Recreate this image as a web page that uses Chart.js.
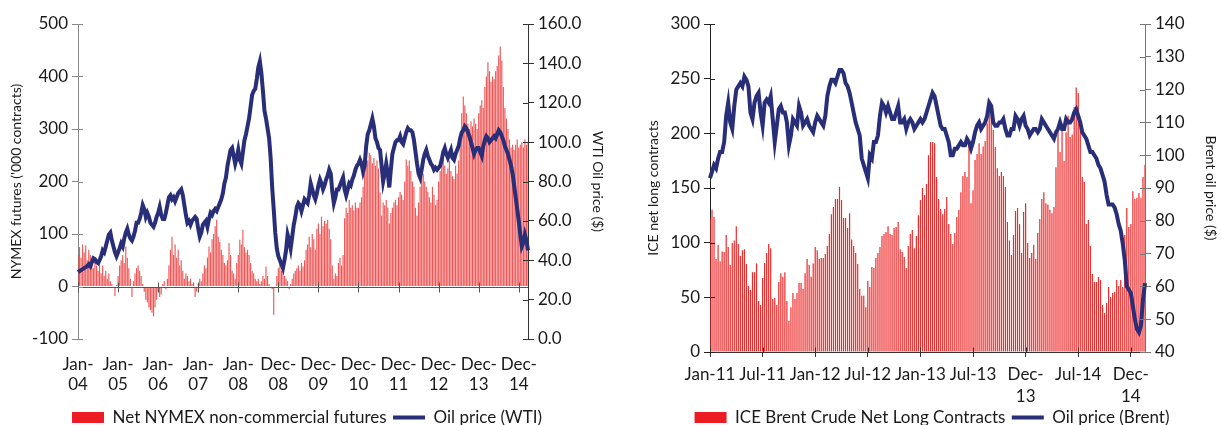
<!DOCTYPE html>
<html>
<head>
<meta charset="utf-8">
<script src="https://cdn.jsdelivr.net/npm/chart.js@4.4.1/dist/chart.umd.min.js"></script>
<style>
  body { margin: 0; background: #fff; }
  #wrap { position: relative; width: 1221px; height: 425px; overflow: hidden; }
  #c1 { position: absolute; left: 0; top: 0; }
  #c2 { position: absolute; left: 612px; top: 0; }
</style>
</head>
<body>
<div id="wrap">
  <canvas id="c1" width="612" height="436"></canvas>
  <canvas id="c2" width="609" height="436"></canvas>
</div>
<script>
// ---- left chart: NYMEX net non-commercial futures vs WTI (fortnightly, Jan-04 .. Feb-15)
var nymexTicks = [['Jan-','04'],['Jan-','05'],['Jan-','06'],['Jan-','07'],['Jan-','08'],['Dec-','08'],
                  ['Dec-','09'],['Dec-','10'],['Dec-','11'],['Dec-','12'],['Dec-','13'],['Dec-','14']];

var nymex = [
  60, 75, 55, 80, 65, 78, 50, 70, 60, 45, 35, 50, 40, 30, 45, 25, 40, 20, 30, 15, 25, 10, 5, 0, -18, 3,
  20, 40, 50, 60, 45, 76, 55, 35, 15, -20, 10, 25, 35, 40, 30, 20, 5, -10, -25, -30, -40, -45, -50, -57, -40, -25,
  -10, -20, -15, 5, 10, -5, 15, 40, 70, 95, 60, 80, 55, 70, 40, 50, 30, 15, 25, 20, 10, 15, 5, 8, -20, -10,
  5, 15, 10, 25, 40, 35, 55, 76, 65, 90, 100, 115, 127, 95, 85, 70, 60, 45, 40, 50, 83, 60, 30, 25, 15, 45,
  60, 89, 80, 108, 75, 65, 70, 60, 45, 30, 25, 15, 10, 15, 5, 10, 20, 15, 38, 20, 5, 0, -5, -54, 0, 20,
  35, 45, 30, 40, 20, 15, 10, -5, 5, 15, 25, 30, 35, 40, 30, 45, 38, 50, 70, 80, 95, 75, 100, 90, 70, 110,
  120, 100, 133, 115, 125, 120, 127, 110, 90, 40, 15, 25, 20, 45, 55, 40, 60, 130, 150, 140, 165, 150, 155, 145, 160, 150,
  150, 160, 170, 190, 230, 245, 240, 255, 250, 235, 245, 230, 240, 225, 179, 135, 160, 155, 165, 150, 120, 140, 150, 160, 165, 155,
  170, 180, 175, 165, 200, 242, 230, 240, 220, 200, 190, 150, 135, 160, 190, 210, 215, 200, 190, 180, 170, 160, 190, 175, 155, 165,
  200, 220, 240, 245, 230, 215, 225, 240, 220, 210, 205, 230, 215, 240, 280, 330, 362, 345, 330, 310, 300, 315, 305, 320, 310, 300,
  330, 345, 355, 340, 380, 400, 427, 410, 390, 400, 395, 410, 420, 440, 457, 430, 380, 340, 320, 300, 280, 265, 270, 260,
  270, 280, 265, 270, 275, 265, 280, 270, 275
];

var wti = [
  34, 34.5, 35, 35.5, 36, 36.5, 37, 38, 37, 39, 41, 40.5, 39,
  38.5, 40, 42, 45, 44, 47, 50, 53, 54, 50, 47, 44, 42,
  44, 46, 48.5, 47, 51, 54, 56, 53, 51, 50, 52, 55, 59,
  59, 61, 64, 68, 66, 62, 64, 62, 59, 58, 57, 59, 62,
  64, 67, 63, 61, 61, 64, 68, 72, 73, 71, 72, 70, 72,
  74, 75, 76, 73, 68, 63, 59, 60, 58, 60, 61, 62, 61,
  56, 52, 54, 58, 59, 60, 57, 61, 64, 63, 65, 66, 65,
  67, 69, 71, 74, 79, 82, 88, 92, 96, 97, 93, 89, 92,
  96, 91, 89, 95, 101, 104, 108, 112, 118, 124, 126, 127, 132,
  138, 141, 135, 126, 116, 112, 107, 102, 92, 77, 66, 54, 46,
  42, 40, 38, 36, 40, 45, 53, 50, 46, 52, 58, 62, 67,
  69, 68, 65, 68, 71, 70, 69, 73, 79, 76, 73, 71, 74,
  78, 81, 79, 76, 78, 81, 83, 86, 84, 75, 69, 72, 76,
  76, 78, 80, 82, 76, 73, 76, 79, 78, 81, 83, 86, 88,
  89, 91, 89, 85, 88, 98, 104, 106, 109, 112, 108, 102, 100,
  97, 96, 88, 80, 84, 89, 84, 77, 86, 94, 97, 100, 101,
  101, 103, 100, 99, 102, 105, 107, 106, 106, 105, 101, 95, 89,
  84, 82, 86, 91, 94, 96, 93, 91, 89, 88, 86, 87, 86,
  87, 88, 91, 95, 97, 94, 92, 94, 96, 92, 91, 94, 96,
  98, 102, 105, 106, 108, 107, 105, 103, 100, 97, 94, 96, 97,
  97, 95, 93, 98, 101, 103, 102, 100, 101, 102, 103, 102, 104,
  106, 105, 103, 101, 98, 96, 94, 91, 88, 84, 78, 72, 66,
  60, 53, 47, 49, 53, 50, 45
];

// ---- right chart: ICE Brent net long vs Brent (weekly, Jan-11 .. Feb-15)
var iceTicks = [['Jan-11'],['Jul-11'],['Jan-12'],['Jul-12'],['Jan-13'],['Jul-13'],['Dec-','13'],['Jul-14'],['Dec-','14']];

var iceNet = [
  122, 130, 123.5, 85, 98, 83, 92, 91.5, 107, 96, 79.6, 99.7, 102, 115, 98.8, 87.8, 93, 94, 80.5, 60.4,
  56.7, 73, 73, 81, 46.6, 43, 67.7, 81.4, 90.6, 98.8, 95, 48.5, 49.4, 43, 64, 72, 68.8, 73, 46.6, 28.4,
  41, 54, 48.5, 54, 63, 63, 57.6, 72, 85, 79.6, 68.8, 81, 96, 93, 85, 86, 86, 89.6, 97, 108,
  126, 132.6, 140, 140, 151, 139, 122.6, 122.6, 113.4,
  127, 103, 97, 90.6, 80.5, 57.6, 51.5, 51.5, 41, 65, 59.5, 77.7, 76.8, 86, 90.6, 96, 106, 108, 109.8, 115,
  108, 107, 113.4, 114.3, 119, 94, 91.5, 87, 76.8, 97, 108, 111.6, 95, 106, 125, 139, 150, 143.6, 153.7, 180,
  192, 192, 191, 160, 140, 130.8, 126, 130.8, 141.8, 117, 108, 98.8, 108.8, 123.5, 130, 146, 161, 164.6, 160, 191,
  136, 148, 175.6, 181, 191, 181, 188, 193, 209, 226, 220, 203,
  187.5, 168, 161, 164.6, 161, 151, 119, 102, 88.7, 107, 129, 131.7, 117, 90.6, 128, 136, 99.7, 86, 90.6, 98,
  85, 108.8, 121.6, 140, 146, 136, 135, 130, 127, 132.6, 169, 203, 183, 209, 174.7, 201, 216, 196.6, 199, 224,
  242, 237, 205, 160, 155.5, 117, 120.7, 97, 71.3, 64, 64, 68.6, 65.8, 43, 35.7, 44.8, 59.5, 50.3, 54, 55,
  65.8, 60.4, 65.8, 59.5, 107, 131.7, 114.3, 117, 147, 140, 141, 145.4, 141, 160, 171
];

var brent = [
  93, 95, 97, 96, 99, 101, 101, 104, 112, 116, 110, 108, 115,
  120, 121, 122, 121, 124, 123, 121, 113, 111, 116, 118, 119, 113,
  109, 116, 117, 116, 118, 111, 104, 109, 114, 115, 113, 113, 110,
  103, 106, 111, 110, 109, 115, 113, 109, 110, 111, 109, 108, 107,
  110, 112, 111, 110, 109, 112, 118, 121, 123, 123, 122, 124, 126,
  126, 125, 122, 121, 119, 116, 113, 110, 108, 106, 99, 97, 95,
  93, 100, 99, 104, 104, 106, 112, 116, 115, 113, 115, 113, 111,
  111, 113, 115, 110, 110, 111, 108, 110, 111, 110, 108, 109, 110,
  111, 110, 111, 113, 115, 117, 119, 118, 115, 112, 109, 108, 108,
  106, 104, 100, 100, 102, 102, 103, 104, 103, 103, 105, 104, 102,
  104, 107, 109, 110, 108, 109, 110, 112, 116, 115, 110, 109, 109,
  110, 110, 111, 108, 106, 106, 108, 108, 112, 111, 109, 111, 112,
  109, 108, 106, 107, 108, 108, 107, 108, 111, 110, 109, 108, 107,
  106, 105, 107, 108, 110, 108, 108, 111, 110, 110, 111, 113, 114,
  112, 110, 107, 106, 105, 103, 101, 101, 100, 99, 97, 96, 94,
  92, 88, 85, 85, 85, 84, 82, 79, 77, 73, 68, 60, 59,
  58, 54, 50, 47, 46, 48, 56, 61
];

var navy = '#282e78';
var red = '#ed1c24';
var textColor = '#1a1a1a';
var tickFont = { size: 17 };
var titleFont = { size: 14 };

Chart.defaults.font.family = 'Lato, "Open Sans", sans-serif';
Chart.defaults.color = textColor;
Chart.defaults.animation = false;

// Excel style "cross" tick marks: Chart.js draws the outer half, this draws the inner half
var crossTicks = {
  id: 'crossTicks',
  afterDraw: function (chart) {
    var ctx = chart.ctx;
    Object.keys(chart.scales).forEach(function (id) {
      var s = chart.scales[id];
      var len = s.options.crossLen;
      if (!len) return;
      ctx.save();
      ctx.strokeStyle = s.options.border.color;
      ctx.lineWidth = 1;
      ctx.beginPath();
      s.ticks.forEach(function (t, i) {
        var p = Math.round(s.getPixelForTick(i)) + 0.5;
        if (s.axis === 'x') {
          var y = Math.round(s.top) + 0.5;
          ctx.moveTo(p, y); ctx.lineTo(p, y - len);
        } else if (s.position === 'left') {
          ctx.moveTo(s.right, p); ctx.lineTo(s.right + len, p);
        } else {
          ctx.moveTo(s.left, p); ctx.lineTo(s.left - len, p);
        }
      });
      ctx.stroke();
      ctx.restore();
    });
  }
};

// chart 1: category axis crosses at 0, labels stay at the bottom
var zeroLine = {
  id: 'zeroLine',
  afterDatasetsDraw: function (chart) {
    var x = chart.scales.x, y = chart.scales.y, ctx = chart.ctx;
    var py = Math.round(y.getPixelForValue(0)) + 0.5;
    ctx.save();
    ctx.strokeStyle = '#555';
    ctx.lineWidth = 1;
    ctx.beginPath();
    ctx.moveTo(chart.chartArea.left, py);
    ctx.lineTo(chart.chartArea.right, py);
    x.ticks.forEach(function (t, i) {
      var px = Math.round(x.getPixelForTick(i)) + 0.5;
      ctx.moveTo(px, py - 5);
      ctx.lineTo(px, py + 5);
    });
    ctx.stroke();
    ctx.restore();
  }
};

function legendLabels(chart) {
  return chart.data.datasets.map(function (ds, i) {
    var isLine = ds.type === 'line';
    return {
      text: isLine ? ds.label : ds.label + ' ',
      datasetIndex: i,
      fillStyle: isLine ? navy : red,
      strokeStyle: isLine ? navy : red,
      lineWidth: isLine ? 4 : 0,
      pointStyle: isLine ? 'line' : 'rect',
      fontColor: textColor,
      hidden: false
    };
  });
}

var legendOpts = {
  position: 'bottom',
  labels: {
    usePointStyle: true,
    pointStyleWidth: 32,
    boxHeight: 11,
    padding: 2,
    font: tickFont,
    generateLabels: legendLabels
  }
};

function everyTick(step) {
  return function (scale) {
    scale.ticks = scale.ticks.filter(function (t) { return t.value % step === 0; });
  };
}

// ---------- chart 1
new Chart(document.getElementById('c1'), {
  type: 'bar',
  data: {
    labels: nymex.map(function (v, i) { return i; }),
    datasets: [
      {
        type: 'bar',
        label: 'Net NYMEX non-commercial futures',
        data: nymex,
        yAxisID: 'y',
        backgroundColor: 'rgba(235,45,45,0.8)',
        barPercentage: 0.75,
        categoryPercentage: 1,
        inflateAmount: 0,
        order: 2
      },
      {
        type: 'line',
        label: 'Oil price (WTI)',
        data: wti,
        yAxisID: 'y1',
        borderColor: navy,
        borderWidth: 4,
        pointRadius: 0,
        tension: 0,
        order: 1
      }
    ]
  },
  options: {
    responsive: false,
    layout: { padding: { left: 6, right: 4, top: 24, bottom: 0 } },
    plugins: { tooltip: { enabled: false }, legend: legendOpts },
    scales: {
      x: {
        type: 'category',
        position: 'bottom',
        offset: false,
        grid: { display: false, drawTicks: false, offset: false },
        border: { display: false },
        afterBuildTicks: everyTick(26),
        afterFit: function (s) { s.height = 68; },
        ticks: {
          autoSkip: false,
          maxRotation: 0,
          padding: 15,
          font: { size: 17, lineHeight: 1.18 },
          callback: function (v) { return nymexTicks[v / 26]; }
        }
      },
      y: {
        position: 'left',
        min: -100,
        max: 500,
        crossLen: 5,
        afterFit: function (s) { s.width = 72; },
        ticks: { stepSize: 100, padding: 4, font: tickFont },
        grid: { drawOnChartArea: false, tickLength: 6, color: '#888' },
        border: { color: '#888' },
        title: { display: true, text: "NYMEX futures ('000 contracts)", font: titleFont, padding: 2 }
      },
      y1: {
        position: 'right',
        min: 0,
        max: 160,
        crossLen: 5,
        afterFit: function (s) { s.width = 80; },
        ticks: { stepSize: 20, padding: 4, font: tickFont, callback: function (v) { return v.toFixed(1); } },
        grid: { drawOnChartArea: false, tickLength: 6, color: '#333' },
        border: { color: '#333' },
        title: { display: true, text: 'WTI Oil price ($)', font: titleFont, padding: 2 }
      }
    }
  },
  plugins: [crossTicks, zeroLine]
});

// ---------- chart 2
new Chart(document.getElementById('c2'), {
  type: 'bar',
  data: {
    labels: iceNet.map(function (v, i) { return i; }),
    datasets: [
      {
        type: 'bar',
        label: 'ICE Brent Crude Net Long Contracts',
        data: iceNet,
        yAxisID: 'y',
        backgroundColor: '#ee2a2a',
        barThickness: 1.2,
        inflateAmount: 0,
        order: 2
      },
      {
        type: 'line',
        label: 'Oil price (Brent)',
        data: brent,
        yAxisID: 'y1',
        borderColor: navy,
        borderWidth: 4,
        pointRadius: 0,
        tension: 0,
        order: 1
      }
    ]
  },
  options: {
    responsive: false,
    layout: { padding: { left: 31, right: 0, top: 24, bottom: 0 } },
    plugins: { tooltip: { enabled: false }, legend: legendOpts },
    scales: {
      x: {
        type: 'category',
        offset: false,
        crossLen: 5,
        grid: { display: true, drawOnChartArea: false, tickLength: 5, offset: false, color: '#333' },
        border: { color: '#333' },
        afterBuildTicks: everyTick(26),
        afterFit: function (s) { s.height = 55; },
        ticks: {
          autoSkip: false,
          maxRotation: 0,
          padding: 6,
          font: { size: 17, lineHeight: 1.3 },
          callback: function (v) { return iceTicks[v / 26]; }
        }
      },
      y: {
        position: 'left',
        min: 0,
        max: 300,
        crossLen: 5,
        afterFit: function (s) { s.width = 67; },
        ticks: { stepSize: 50, padding: 4, font: tickFont },
        grid: { drawOnChartArea: false, tickLength: 6, color: '#222' },
        border: { color: '#222' },
        title: { display: true, text: 'ICE net long contracts', font: titleFont, padding: 2 }
      },
      y1: {
        position: 'right',
        min: 40,
        max: 140,
        crossLen: 5,
        afterFit: function (s) { s.width = 76; },
        ticks: { stepSize: 10, padding: 4, font: tickFont },
        grid: { drawOnChartArea: false, tickLength: 6, color: '#777' },
        border: { color: '#777' },
        title: { display: true, text: 'Brent oil price ($)', font: titleFont, padding: 2 }
      }
    }
  },
  plugins: [crossTicks]
});
</script>
</body>
</html>
